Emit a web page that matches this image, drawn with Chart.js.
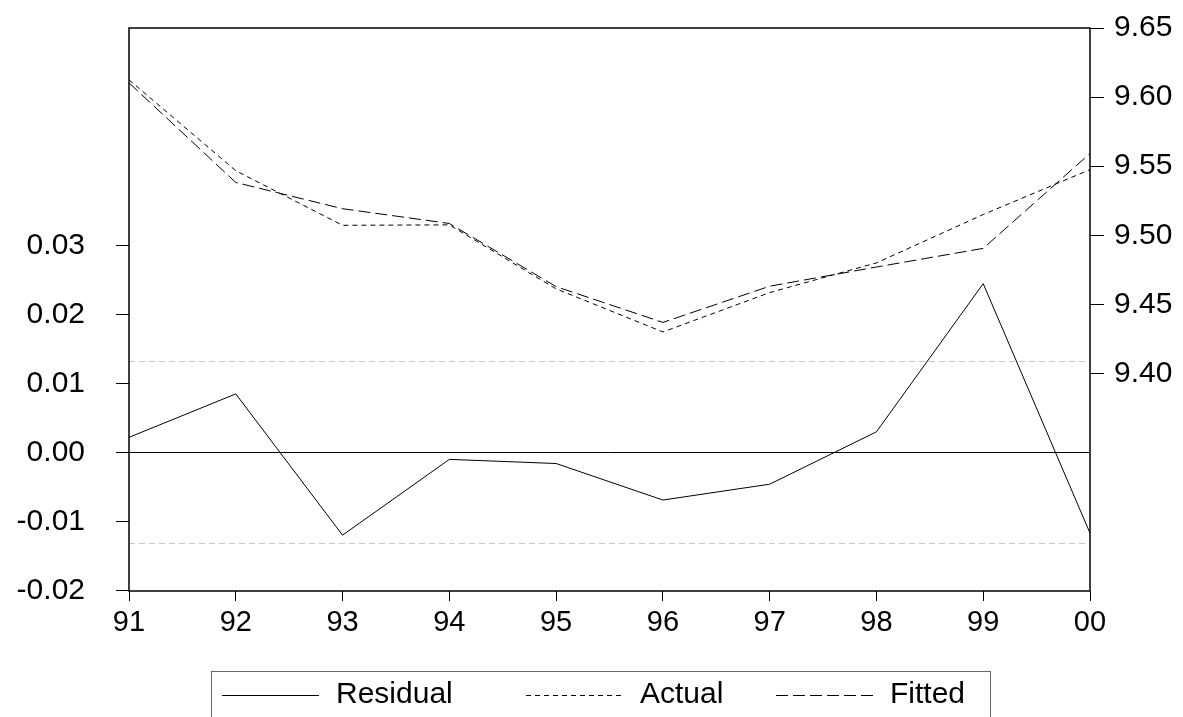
<!DOCTYPE html>
<html>
<head>
<meta charset="utf-8">
<script src="https://cdn.jsdelivr.net/npm/chart.js@4.4.1/dist/chart.umd.min.js"></script>
<style>
  html, body { margin: 0; padding: 0; background: #fff; }
  canvas { display: block; }
</style>
</head>
<body>
<canvas id="chart" width="1183" height="717"></canvas>
<script>
const years = ["91", "92", "93", "94", "95", "96", "97", "98", "99", "00"];
const residual = [0.0022, 0.0085, -0.012, -0.001, -0.0016, -0.0069, -0.0046, 0.003, 0.0245, -0.0117];
const actual = [9.6125, 9.5467, 9.5072, 9.5075, 9.4612, 9.43, 9.4585, 9.48, 9.515, 9.5475];
const fitted = [9.6103, 9.5382, 9.5192, 9.5085, 9.4628, 9.4369, 9.4631, 9.477, 9.4905, 9.5592];
const stdErr = 0.0132;
const residualTicks = [-0.02, -0.01, 0, 0.01, 0.02, 0.03];
const levelTicks = [9.4, 9.45, 9.5, 9.55, 9.6, 9.65];

const FONT = "'Liberation Sans', Arial, sans-serif";

const frame = {
  id: "frame",
  afterDatasetsDraw(chart) {
    const { ctx, chartArea } = chart;
    ctx.save();
    ctx.strokeStyle = "#000";
    ctx.lineWidth = 1.5;
    ctx.strokeRect(chartArea.left, chartArea.top, chartArea.right - chartArea.left, chartArea.bottom - chartArea.top);
    ctx.restore();
  },
};

// legend in a box under the plot, sample line then label
const boxLegend = {
  id: "boxLegend",
  afterDraw(chart) {
    const { ctx } = chart;
    const starts = [222, 526, 776];
    const y = 695;
    ctx.save();
    ctx.strokeStyle = "#666";
    ctx.lineWidth = 1;
    ctx.strokeRect(211.5, 671.5, 779, 60);

    ctx.font = "30px " + FONT;
    ctx.fillStyle = "#000";
    ctx.textBaseline = "middle";
    chart.data.datasets.slice(0, 3).forEach((ds, i) => {
      const x = starts[i];
      ctx.strokeStyle = "#000";
      ctx.lineWidth = 1;
      ctx.setLineDash(ds.borderDash || []);
      ctx.beginPath();
      ctx.moveTo(x, y + 0.5);
      ctx.lineTo(x + 97, y + 0.5);
      ctx.stroke();
      ctx.setLineDash([]);
      ctx.fillText(ds.label, x + 114, y);
    });
    ctx.restore();
  },
};

const data = {
  labels: years,
  datasets: [
    { label: "Residual", data: residual, yAxisID: "y", borderColor: "#000", borderWidth: 1, pointRadius: 0 },
    { label: "Actual", data: actual, yAxisID: "y2", borderColor: "#000", borderWidth: 1, borderDash: [5, 4], pointRadius: 0 },
    { label: "Fitted", data: fitted, yAxisID: "y2", borderColor: "#000", borderWidth: 1, borderDash: [12, 5], pointRadius: 0 },
    { label: "+se", data: years.map(() => stdErr), yAxisID: "y", borderColor: "#c8c8c8", borderWidth: 1, borderDash: [6, 4], pointRadius: 0 },
    { label: "-se", data: years.map(() => -stdErr), yAxisID: "y", borderColor: "#c8c8c8", borderWidth: 1, borderDash: [6, 4], pointRadius: 0 },
  ],
};

const xFont = { family: FONT, size: 29 };
const yFont = { family: FONT, size: 30 };

function noLabelPadding(scale) {
  scale.paddingTop = 0;
  scale.paddingBottom = 0;
}

const options = {
  responsive: false,
  animation: false,
  devicePixelRatio: 1,
  layout: { padding: { top: 28, right: 0, bottom: 76, left: 0 } },
  plugins: {
    legend: { display: false },
    tooltip: { enabled: false },
  },
  scales: {
    x: {
      type: "category",
      offset: false,
      border: { display: false },
      grid: { drawOnChartArea: false, tickLength: 10, tickColor: "#000", lineWidth: 1 },
      ticks: { color: "#000", font: xFont, padding: 5, maxRotation: 0, autoSkip: false },
      afterFit: (scale) => {
        scale.height = 50;
        scale.paddingLeft = 0;
        scale.paddingRight = 0;
      },
    },
    y: {
      position: "left",
      min: -0.0201,
      max: 0.0616,
      border: { display: false },
      grid: {
        color: (context) => (context.tick && context.tick.value === 0 ? "#000" : "transparent"),
        tickColor: "#000",
        tickLength: 13,
        lineWidth: 1,
      },
      afterBuildTicks: (scale) => { scale.ticks = residualTicks.map((v) => ({ value: v })); },
      ticks: { color: "#000", font: yFont, padding: 31, callback: (v) => Number(v).toFixed(2) },
      afterFit: (scale) => {
        scale.width = 129;
        noLabelPadding(scale);
      },
    },
    y2: {
      position: "right",
      min: 9.2425,
      max: 9.65,
      border: { display: false },
      grid: { drawOnChartArea: false, tickColor: "#000", tickLength: 14, lineWidth: 1 },
      afterBuildTicks: (scale) => { scale.ticks = levelTicks.map((v) => ({ value: v })); },
      ticks: { color: "#000", font: yFont, padding: 10, callback: (v) => Number(v).toFixed(2) },
      afterFit: (scale) => {
        scale.width = 93;
        noLabelPadding(scale);
      },
    },
  },
};

new Chart(document.getElementById("chart"), {
  type: "line",
  data,
  options,
  plugins: [frame, boxLegend],
});
</script>
</body>
</html>
